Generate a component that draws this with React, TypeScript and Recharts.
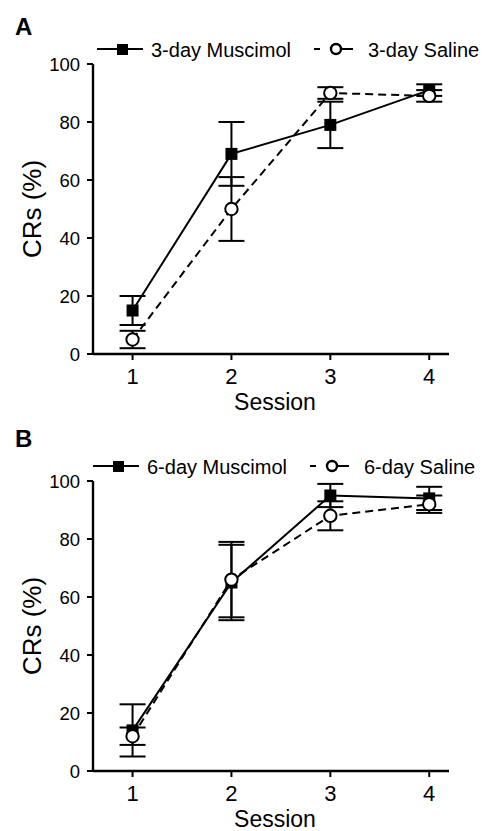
import { ErrorBar, Label, Line, LineChart, XAxis, YAxis } from "recharts";

const SESSIONS = [1, 2, 3, 4];
const SESSION_TICKS = [1, 2, 3, 4];
const CR_TICKS = [0, 20, 40, 60, 80, 100];

// panel A, 3-day infusions
const MUSCIMOL_3DAY = [15, 69, 79, 91];
const MUSCIMOL_3DAY_SEM = [5, 11, 8, 2];
const SALINE_3DAY = [5, 50, 90, 89];
const SALINE_3DAY_SEM = [3, 11, 2, 2];

// panel B, 6-day infusions
const MUSCIMOL_6DAY = [14, 65, 95, 94];
const MUSCIMOL_6DAY_SEM = [9, 13, 4, 4];
const SALINE_6DAY = [12, 66, 88, 92];
const SALINE_6DAY_SEM = [3, 13, 5, 3];

const FONT = '"Liberation Sans", Arial, Helvetica, sans-serif';
const W = 484;
const H = 414;

// eslint-disable-next-line @typescript-eslint/no-explicit-any
function squareDot(props: any) {
  const { cx, cy, index } = props;
  if (cx == null || cy == null) return <g key={`sq-${index}`} />;
  return <rect key={`sq-${index}`} x={cx - 6} y={cy - 6} width={12} height={12} fill="#000" />;
}

// eslint-disable-next-line @typescript-eslint/no-explicit-any
function circleDot(props: any) {
  const { cx, cy, index } = props;
  if (cx == null || cy == null) return <g key={`ci-${index}`} />;
  return <circle key={`ci-${index}`} cx={cx} cy={cy} r={6.2} fill="#fff" stroke="#000" strokeWidth={2} />;
}

interface PanelProps {
  letter: string;
  letterY: number;
  top: number;
  muscimolName: string;
  salineName: string;
  muscimol: number[];
  muscimolSem: number[];
  saline: number[];
  salineSem: number[];
  legendShift: number;
}

function Panel({ letter, letterY, top, muscimolName, salineName, muscimol, muscimolSem, saline, salineSem, legendShift }: PanelProps) {
  const data = SESSIONS.map((s, i) => ({
    session: s,
    mus: muscimol[i],
    musErr: muscimolSem[i],
    sal: saline[i],
    salErr: salineSem[i],
  }));
  const d = legendShift;

  return (
    <div style={{ position: "absolute", left: 0, top, width: W, height: H }}>
      <LineChart width={W} height={H} data={data} margin={{ top: 64, right: 35, bottom: 0, left: 0 }}>
        <XAxis
          dataKey="session"
          type="number"
          domain={[0.6, 4.2]}
          ticks={SESSION_TICKS}
          height={H - 354}
          axisLine={{ stroke: "#000", strokeWidth: 2.4 }}
          tickLine={{ stroke: "#000", strokeWidth: 2 }}
          tickSize={6}
          tickMargin={8}
          tick={{ fontSize: 22, fill: "#000" }}
        >
          <Label value="Session" position="insideBottom" offset={4} dx={4} fontSize={23} fill="#000" />
        </XAxis>
        <YAxis
          type="number"
          domain={[0, 100]}
          ticks={CR_TICKS}
          width={93}
          axisLine={{ stroke: "#000", strokeWidth: 2.4 }}
          tickLine={{ stroke: "#000", strokeWidth: 2 }}
          tickSize={6}
          tickMargin={7}
          tick={{ fontSize: 18.5, fill: "#000" }}
        >
          <Label
            value="CRs (%)"
            angle={-90}
            position="insideLeft"
            offset={32}
            fontSize={26}
            fill="#000"
            style={{ textAnchor: "middle" }}
          />
        </YAxis>
        <Line dataKey="mus" stroke="#000" strokeWidth={2} dot={squareDot} activeDot={false} isAnimationActive={false}>
          <ErrorBar dataKey="musErr" width={13} stroke="#000" strokeWidth={2} />
        </Line>
        <Line
          dataKey="sal"
          stroke="#000"
          strokeWidth={2}
          strokeDasharray="8 5"
          dot={circleDot}
          activeDot={false}
          isAnimationActive={false}
        >
          <ErrorBar dataKey="salErr" width={13} stroke="#000" strokeWidth={2} />
        </Line>
      </LineChart>
      <svg width={W} height={70} style={{ position: "absolute", left: 0, top: 0, pointerEvents: "none" }}>
        <text x={15} y={letterY} fontSize={24} fontWeight="bold" fill="#000">
          {letter}
        </text>
        <line x1={97 + d} x2={143 + d} y1={49} y2={49} stroke="#000" strokeWidth={2} />
        <rect x={117 + d} y={44} width={11} height={11} fill="#000" />
        <text x={151 + d} y={57} fontSize={20} fill="#000">
          {muscimolName}
        </text>
        <line x1={314 + d} x2={320 + d} y1={49} y2={49} stroke="#000" strokeWidth={2} />
        <line x1={341 + d} x2={353 + d} y1={49} y2={49} stroke="#000" strokeWidth={2} />
        <circle cx={336 + d} cy={49} r={5} fill="#fff" stroke="#000" strokeWidth={2.4} />
        <text x={368 + d} y={57} fontSize={20} fill="#000">
          {salineName}
        </text>
      </svg>
    </div>
  );
}

export default function App() {
  return (
    <div style={{ position: "absolute", left: 0, top: 0, width: W, height: 831, background: "#fff", fontFamily: FONT }}>
      <Panel
        letter="A"
        letterY={35}
        top={0}
        muscimolName="3-day Muscimol"
        salineName="3-day Saline"
        muscimol={MUSCIMOL_3DAY}
        muscimolSem={MUSCIMOL_3DAY_SEM}
        saline={SALINE_3DAY}
        salineSem={SALINE_3DAY_SEM}
        legendShift={0}
      />
      <Panel
        letter="B"
        letterY={30}
        top={417}
        muscimolName="6-day Muscimol"
        salineName="6-day Saline"
        muscimol={MUSCIMOL_6DAY}
        muscimolSem={MUSCIMOL_6DAY_SEM}
        saline={SALINE_6DAY}
        salineSem={SALINE_6DAY_SEM}
        legendShift={-4}
      />
    </div>
  );
}
